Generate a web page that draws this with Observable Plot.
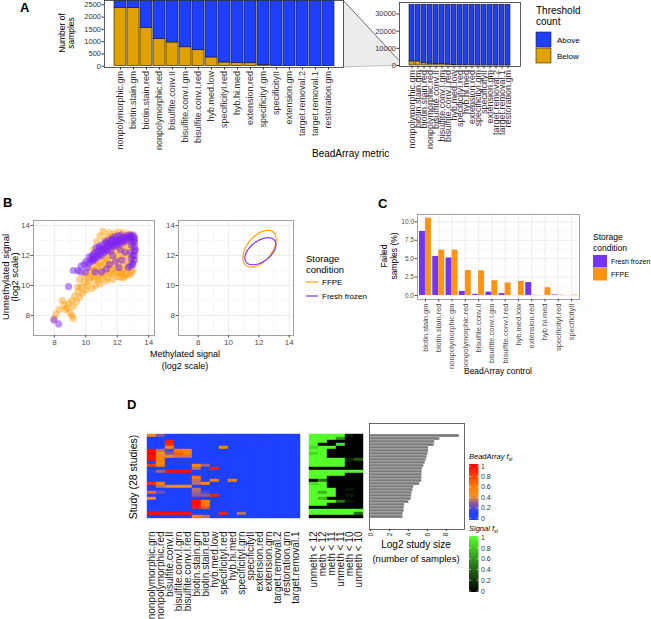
<!DOCTYPE html>
<html><head><meta charset="utf-8">
<script src="https://cdn.jsdelivr.net/npm/d3@7"></script>
<script src="https://cdn.jsdelivr.net/npm/@observablehq/plot@0.6"></script>
<style>
body{margin:0;background:#fff;}
#root{position:relative;width:651px;height:619px;overflow:hidden;background:#fff;}
.p{position:absolute;}
.p svg{overflow:visible;}
</style></head><body><div id="root"></div>
<script>
// ---------------- DATA ----------------
// Panel A
const metricsA = ["nonpolymorphic.gm","biotin.stain.gm","biotin.stain.red","nonpolymorphic.red","bisulfite.conv.II","bisulfite.conv.I.gm","bisulfite.conv.I.red","hyb.med.low","specificityI.red","hyb.hi.med","extension.red","specificityI.gm","specificityII","extension.gm","target.removal.2","target.removal.1","restoration.gm"];
const belowA = [2380,2370,1550,1100,965,770,650,355,150,130,120,45,20,4,3,2,2];
const totalSamplesA = 35400;
const statusA = ["Above","Below"];
const ticksA1 = [0,500,1000,1500,2000,2500];
const ticksA2 = [0,10000,20000,30000];

// Panel B (methylated, unmethylated) log2 signal
const ffpeB = [
 [11.5,13.5],[11.8,13.45],[12.1,13.55],[12.4,13.5],[12.7,13.45],[12.95,13.4],
 [11.4,13.2],[11.65,13.25],[11.95,13.15],[12.25,13.2],[12.55,13.25],[12.85,13.15],[13.1,13.2],
 [11.3,12.9],[11.6,12.85],[11.9,12.95],[12.2,12.9],[12.5,12.85],[12.8,12.95],[13.05,12.9],
 [11.45,12.6],[11.75,12.65],[12.05,12.55],[12.35,12.6],[12.65,12.65],[12.95,12.55],
 [11.3,12.3],[11.6,12.25],[11.9,12.35],[12.2,12.3],[12.5,12.25],[12.8,12.35],[13.1,12.3],
 [11.45,12.0],[11.75,12.05],[12.05,11.95],[12.35,12.0],[12.65,12.05],[12.95,11.95],
 [11.3,11.7],[11.6,11.65],[11.9,11.75],[12.2,11.7],[12.5,11.65],[12.8,11.75],[13.05,11.7],
 [11.5,11.4],[11.8,11.35],[12.1,11.45],[12.4,11.4],[12.7,11.35],
 [11.6,11.1],[11.95,11.15],[12.3,11.05],[12.65,11.1],
 [11.8,10.8],[12.25,10.85],[12.6,10.75],
 [11.1,12.5],[10.9,12.1],[11.2,11.8],[10.7,11.6],[11.0,11.3],[10.6,11.1],[10.8,10.8],[11.2,10.9],
 [10.4,10.7],[10.2,10.5],[10.6,10.4],[11.0,10.5],[11.4,10.5],[10.3,11.2],[10.0,10.8],
 [10.5,10.6],[10.8,10.4],[11.1,10.7],[11.5,10.8],[10.3,10.9],[10.7,11.3],[11.4,11.2],[10.5,11.0],
 [11.6,10.9],[12.0,10.9],[12.3,10.9],[11.0,11.0],[10.9,11.5],[11.2,11.5],
 [10.9,13.3],[11.1,13.6],[10.7,12.9],[11.2,13.0],[10.5,12.4],
 [12.0,10.6],[12.4,10.5],[12.8,10.7],[11.7,10.4],[13.0,11.0],[12.9,10.9],
 [9.9,10.2],[10.1,10.0],[10.4,9.8],[9.7,9.9],[9.5,9.6],[9.8,9.5],[10.0,9.7],[9.3,9.3],[9.6,9.2],
 [9.1,9.0],[8.9,8.8],[8.8,8.5],[8.6,8.7],[8.5,9.0],[9.4,8.9],[9.2,8.6],[8.3,8.4],[8.1,8.1],
 [8.0,7.8],[9.1,8.0],[9.2,7.8],[9.0,8.2],[8.7,8.4],[9.5,9.9],[10.6,10.0],[9.9,10.6],[9.6,10.4],[10.2,10.3],
 [10.9,10.1],[11.3,10.3],[12.2,10.55],[12.5,10.65]
];
const freshB = [
 [10.2,11.5],[10.2,11.9],[10.4,11.6],[10.4,12.0],[10.45,11.8],[10.6,11.8],[10.6,12.2],[10.65,12.5],
 [10.8,11.9],[10.8,12.3],[10.85,12.6],[11.0,12.0],[11.0,12.4],[11.05,12.7],[11.2,12.2],[11.2,12.5],[11.25,12.9],
 [11.4,12.3],[11.4,12.7],[11.45,13.0],[11.6,12.4],[11.6,12.8],[11.65,13.1],[11.8,12.6],[11.8,12.9],[11.85,13.25],
 [12.0,12.7],[12.0,13.0],[12.05,13.3],[12.2,12.8],[12.2,13.1],[12.25,13.35],[12.4,12.9],[12.4,13.2],
 [12.6,13.0],[12.6,13.3],[12.8,13.1],[12.8,13.35],
 [10.3,11.7],[10.5,11.7],[10.7,12.0],[10.9,12.1],[11.1,12.3],[11.3,12.4],[11.5,12.6],[11.7,12.7],
 [11.9,12.8],[12.1,12.9],[12.3,13.0],[12.5,13.1],[12.7,13.2],[12.9,13.3],[10.5,12.1],[10.9,12.5],[11.3,12.8],[11.7,13.05],
 [12.95,13.2],[13.0,12.9],[13.1,12.6],[13.1,12.3],[13.0,12.0],[13.1,11.7],[12.95,11.5],[12.85,11.3],[12.7,11.2],[13.05,13.3],[12.9,12.7],[12.85,12.2],
 [13.1,12.0],[13.15,12.4],[13.1,12.9],[13.0,11.4],[12.9,11.8],[13.1,13.1],
 [11.5,11.4],[11.9,11.6],[12.1,11.2],[11.3,11.1],[11.0,10.9],[10.6,10.9],[11.7,12.0],[12.3,11.7],[12.5,12.2],[12.2,12.4],
 [10.0,11.6],[9.9,11.4],[10.1,11.2],[9.7,11.3],[9.5,11.0],[9.2,11.0],[9.65,10.9],[9.97,10.9],
 [7.96,7.7],[8.27,7.44],[8.9,9.93]
];
// Ellipse summaries (centre and shape matrix) per storage condition
const ellipsesB = [
 {cond:"FFPE", cx:12.04, cy:12.45, sxx:1.21, syy:1.50, sxy:0.66},
 {cond:"Fresh frozen", cx:12.1, cy:12.28, sxx:1.05, syy:0.81, sxy:0.456}
];
const ticksB = [8,10,12,14];

// Panel C
const catsC = ["biotin.stain.gm","biotin.stain.red","nonpolymorphic.gm","nonpolymorphic.red","bisulfite.conv.II","bisulfite.conv.I.gm","bisulfite.conv.I.red","hyb.med.low","extension.red","hyb.hi.med","specificityI.red","specificityII"];
const freshC = [8.7,5.3,5.1,0.55,0.15,0.45,0.25,0,1.75,0,0.07,0];
const ffpeC  = [10.5,6.15,6.15,3.4,3.35,2.0,1.7,1.9,0.03,1.05,0.05,0.05];
const ticksC = [0,2.5,5,7.5,10];

// Panel D
const colsD1 = ["nonpolymorphic.grn","nonpolymorphic.red","bisulfite.conv.II","bisulfite.conv.I.grn","bisulfite.conv.I.red","biotin.stain.grn","biotin.stain.red","hyb.med.low","specificityI.red","hyb.hi.med","specificityI.grn","specificityII","extension.red","extension.grn","target.removal.2","restoration.grn","target.removal.1"];
// [study row, column index, f_st] ; all other cells are 0
const beadNonZero = [
 [0,0,0.5],[0,1,0.3],[0,5,0.08],[0,6,0.08],
 [2,2,0.9],[3,2,0.85],[4,2,0.5],[4,6,0.08],[4,8,0.5],[4,10,0.06],[4,12,0.06],
 [5,0,0.95],[5,1,0.35],[5,2,0.2],[5,3,0.55],[5,4,0.5],
 [6,0,1],[6,1,0.42],[6,2,0.28],[6,3,0.7],[6,4,0.52],
 [7,0,0.95],[7,1,0.5],[7,2,0.4],[7,3,0.36],[7,4,0.36],
 [8,0,0.95],[8,1,0.55],
 [9,0,0.15],[9,1,0.5],
 [10,0,0.8],[10,1,0.55],[10,5,0.5],[10,6,0.32],
 [11,5,0.35],[11,7,0.9],
 [12,0,0.15],[12,1,0.32],[12,2,0.95],[12,3,0.95],[12,4,0.95],
 [14,5,0.6],
 [15,5,0.35],[15,7,0.55],[15,9,0.55],
 [16,0,0.85],[16,1,0.55],[16,5,0.35],[16,6,0.5],
 [17,1,0.35],[17,2,0.4],[17,3,0.45],[17,4,0.45],
 [18,5,0.35],
 [19,0,0.65],[19,1,0.25],[19,5,0.32],[19,6,0.2],
 [20,5,0.3],[20,6,0.3],[20,7,0.9],
 [21,0,0.45],
 [22,5,0.95],[22,6,0.55],[23,5,0.95],[23,6,0.6],[24,5,0.9],[24,6,0.7],
 [25,0,0.12],[25,1,0.1],
 [26,0,0.95],[26,1,0.95],[26,2,0.95],[26,3,0.95],[26,4,0.95],[26,8,0.9],[26,10,0.35],
 [27,5,0.55],[27,6,0.35]
];
const colsD2 = ["unmeth < 12","meth < 12","meth < 11","unmeth < 11","meth < 10","unmeth < 10"];
const signalFst = [
 [1,1,1,1,0.1,0],[1,1,1,0.6,0,0],[1,1,0,0,0,0],[1,0,0,0.9,0,0],[0.85,1,1,0,0,0],
 [1,1,0,0,0,0],[0.85,1,0,0,0,0],[1,1,0,0,0,0],[1,1,1,1,0.15,0.35],[1,1,1,1,0.05,0],
 [1,1,1,1,0,0],[0,0,0,0,0,0],[1,1,1,1,1,1],[1,1,1,1,0,0],[1,1,0,0,0,0],
 [0,0.45,0,0,0,0],[0.85,1,0,0,0,0],[1,1,0,0,0,0],[1,1,1,0,0.1,0],[1,0.7,1,0,0,0],
 [1,1,1,0,0.1,0],[1,0.75,0,0,0,0],[1,1,1,0.45,0.1,0],[1,1,0,0,0,0],[0,0,0,0,0,0],
 [1,1,1,1,1,1],[1,1,1,1,1,0.45],[0,0,0,0,0,0]
];
const studySize = [9.4,7.35,6.8,6.75,6.15,6.14,6.08,6.0,5.9,5.8,5.65,5.5,5.47,5.44,5.44,5.4,5.2,4.57,4.5,4.4,4.35,4.32,4.07,3.62,3.58,3.58,3.45,3.44];
const ticksD3 = [0,2,4,6,8];
const legendTicks = [0,0.2,0.4,0.6,0.8,1];

// ---------------- STYLE ----------------
const FONT = "'Liberation Sans', Arial, Helvetica, sans-serif";
const BLUE = "#1F3FFF", GOLD = "#DFA200";
const PURPLE_B = "#7B22F5", ORANGE_B = "#FF9A00";
const PURPLE_C = "#7434F2", ORANGE_C = "#FF9411";
const GRID = "#ebebeb", AX = "#333333";
const beadColor = {domain:[0,0.15,0.3,0.42,0.6,1], range:["#1E40FF","#2A41F5","#8C5A9E","#F59020","#FF7A00","#FF0000"]};
const signalColor = {domain:[0,1], range:["#000000","#55FF2A"]};
const baseStyle = {fontFamily: FONT, background: "transparent", overflow: "visible"};

const root = document.getElementById("root");
const overlay = d3.create("svg").attr("width",651).attr("height",619)
  .style("position","absolute").style("left","0px").style("top","0px").style("font-family",FONT);
root.appendChild(overlay.node());
function place(el, left, top, w) {
  const d = document.createElement("div"); d.className = "p";
  d.style.left = left + "px"; d.style.top = top + "px"; d.style.width = w + "px";
  d.appendChild(el); root.appendChild(d); return el;
}
function T(x, y, s, o = {}) {
  const t = overlay.append("text").attr("font-size", o.size || 9).attr("font-weight", o.weight || "normal")
    .attr("fill", o.fill || "#000").attr("font-style", o.style || "normal").text(s);
  if (o.rot) t.attr("transform", `translate(${x},${y}) rotate(-90)`).attr("text-anchor","middle").attr("dominant-baseline","central");
  else t.attr("x", x).attr("y", y).attr("text-anchor", o.anchor || "start");
  return t;
}

// ---------------- PANEL A ----------------
const dataA = [];
metricsA.forEach((m, i) => {
  dataA.push({metric: m, status: "Below", count: belowA[i]});
  dataA.push({metric: m, status: "Above", count: totalSamplesA - belowA[i]});
});
function barsA(o) {
  return Plot.plot({
    width: o.width, height: 160, marginLeft: o.ml, marginRight: o.mr, marginTop: o.mt, marginBottom: 160 - o.mt - o.ph,
    style: baseStyle,
    x: {domain: metricsA, paddingInner: 0.1, paddingOuter: 0.2},
    y: {domain: o.ydom},
    color: {domain: statusA, range: [BLUE, GOLD]},
    marks: [
      Plot.barY(dataA, {x: "metric", y: "count", fill: "status", order: ["Below","Above"], stroke: "#1a1a1a", strokeWidth: 0.6, clip: true}),
      Plot.frame({stroke: AX, strokeWidth: 0.8}),
      Plot.axisX({tickRotate: -90, tickSize: 2.5, tickPadding: 1, fontSize: 9, color: AX, label: null}),
      Plot.axisY(o.ticks, {tickSize: 2.5, tickPadding: 1, fontSize: 7.5, color: AX, label: null, tickFormat: d => String(d)})
    ]
  });
}
const plotA1 = place(barsA({width: 345, ml: 104, mr: 2, mt: 0, ph: 67, ydom: [-53, 2675], ticks: ticksA1}), 0, 0, 345);
const plotA2 = place(barsA({width: 153, ml: 30, mr: 2, mt: 2, ph: 64, ydom: [-580, 36700], ticks: ticksA2}), 369, 0, 153);

// zoom wedge from left panel to the matching range of the right panel
{
  const yR = plotA2.scale("y");
  const yTop = yR.apply(2675), yBot = yR.apply(-53);
  overlay.append("path").attr("d", `M343,0 L399,${yTop} L399,${yBot} L343,67 Z`).attr("fill", "#ececec");
  overlay.append("line").attr("x1",343).attr("y1",0).attr("x2",399).attr("y2",yTop).attr("stroke","#333").attr("stroke-width",0.7);
  overlay.append("line").attr("x1",343).attr("y1",67).attr("x2",399).attr("y2",yBot).attr("stroke","#999").attr("stroke-width",0.6);
}
T(20, 12, "A", {size: 13, weight: "bold"});
T(62, 33, "Number of", {size: 8.5, rot: true});
T(71, 33, "samples", {size: 8.5, rot: true});
T(312, 157, "BeadArray metric", {size: 10});
T(536, 14, "Threshold", {size: 10});
T(536, 25, "count", {size: 10});
statusA.forEach((s, i) => {
  overlay.append("rect").attr("x", 536).attr("y", 32 + i * 16).attr("width", 15).attr("height", 15)
    .attr("fill", i === 0 ? BLUE : GOLD).attr("stroke", "#222").attr("stroke-width", 0.6);
  T(557, 43 + i * 16, s, {size: 8});
});

// ---------------- PANEL B ----------------
function ellipsePts(e) {
  const l11 = Math.sqrt(e.sxx), l21 = e.sxy / l11, l22 = Math.sqrt(e.syy - l21 * l21);
  return d3.range(0, 361, 4).map(a => { const t = a * Math.PI / 180;
    return {cond: e.cond, x: e.cx + l11 * Math.cos(t), y: e.cy + l21 * Math.cos(t) + l22 * Math.sin(t)}; });
}
function panelB(o) {
  const marks = [
    Plot.gridX([7,9,11,13], {stroke: "#f3f3f3", strokeOpacity: 1, strokeWidth: 0.6}),
    Plot.gridY([7,9,11,13], {stroke: "#f3f3f3", strokeOpacity: 1, strokeWidth: 0.6}),
    Plot.gridX(ticksB, {stroke: GRID, strokeOpacity: 1, strokeWidth: 0.9}),
    Plot.gridY(ticksB, {stroke: GRID, strokeOpacity: 1, strokeWidth: 0.9})
  ];
  if (o.scatter) {
    marks.push(Plot.dot(ffpeB, {x: d => d[0], y: d => d[1], r: 3.6, fill: ORANGE_B, fillOpacity: 0.45, stroke: null}));
    marks.push(Plot.dot(freshB, {x: d => d[0], y: d => d[1], r: 3.6, fill: PURPLE_B, fillOpacity: 0.5, stroke: null}));
  } else {
    ellipsesB.forEach(e => marks.push(Plot.line(ellipsePts(e), {x: "x", y: "y", stroke: e.cond === "FFPE" ? ORANGE_B : PURPLE_B, strokeWidth: 1.1})));
  }
  marks.push(Plot.frame({stroke: "#8a8a8a", strokeWidth: 0.8}));
  marks.push(Plot.axisX(ticksB, {tickSize: 2.5, tickPadding: 1.5, fontSize: 8, color: "#4d4d4d", label: null}));
  marks.push(Plot.axisY(ticksB, {tickSize: 2.5, tickPadding: 1, fontSize: 8, color: "#4d4d4d", label: null}));
  return Plot.plot({
    width: o.width, height: 140, marginLeft: o.ml, marginRight: 6, marginTop: 10, marginBottom: 15,
    style: baseStyle, x: {domain: o.xdom}, y: {domain: [6.67, 14.33]}, marks
  });
}
place(panelB({width: 160, ml: 33, xdom: [6.67, 14.37], scatter: true}), 0, 210, 160);
place(panelB({width: 146, ml: 25, xdom: [6.70, 14.28], scatter: false}), 153, 210, 146);
T(3, 207, "B", {size: 13, weight: "bold"});
T(5, 277, "Unmethylated signal", {size: 9.5, rot: true});
T(14, 277, "(log2 scale)", {size: 9.5, rot: true});
T(185, 357, "Methylated signal", {size: 9, anchor: "middle"});
T(185, 369, "(log2 scale)", {size: 9, anchor: "middle"});
T(306, 262, "Storage", {size: 9.5});
T(306, 273, "condition", {size: 9.5});
[["FFPE", ORANGE_B], ["Fresh frozen", PURPLE_B]].forEach(([s, c], i) => {
  overlay.append("line").attr("x1", 306).attr("x2", 318).attr("y1", 282 + i * 14).attr("y2", 282 + i * 14).attr("stroke", c).attr("stroke-width", 1.1);
  T(322, 285 + i * 14, s, {size: 8});
});

// ---------------- PANEL C ----------------
const rowsC = [];
catsC.forEach((c, i) => {
  rowsC.push({i, cond: "Fresh frozen", v: freshC[i]});
  rowsC.push({i, cond: "FFPE", v: ffpeC[i]});
});
place(Plot.plot({
  width: 202, height: 154, marginLeft: 37, marginRight: 3, marginTop: 9, marginBottom: 60,
  style: baseStyle,
  x: {domain: [-0.6, catsC.length - 0.4]}, y: {domain: [-0.55, 11]},
  color: {domain: ["Fresh frozen","FFPE"], range: [PURPLE_C, ORANGE_C]},
  marks: [
    Plot.gridY([1.25,3.75,6.25,8.75], {stroke: "#f3f3f3", strokeOpacity: 1, strokeWidth: 0.6}),
    Plot.gridY(ticksC, {stroke: GRID, strokeOpacity: 1, strokeWidth: 0.9}),
    Plot.gridX(d3.range(catsC.length), {stroke: GRID, strokeOpacity: 1, strokeWidth: 0.9}),
    Plot.rect(rowsC, {x1: d => d.i + (d.cond === "FFPE" ? 0 : -0.45), x2: d => d.i + (d.cond === "FFPE" ? 0.45 : 0), y1: 0, y2: "v", fill: "cond"}),
    Plot.frame({stroke: "#8a8a8a", strokeWidth: 0.8}),
    Plot.axisX(d3.range(catsC.length), {tickFormat: i => catsC[i], tickRotate: -90, tickSize: 2.5, tickPadding: 1.5, fontSize: 7.5, color: "#4d4d4d", label: null}),
    Plot.axisY(ticksC, {tickFormat: d3.format(".1f"), tickSize: 2.5, tickPadding: 1, fontSize: 6.5, color: "#4d4d4d", label: null})
  ]
}), 380, 205, 202);
T(378, 208, "C", {size: 13, weight: "bold"});
T(384, 256, "Failed", {size: 8.5, rot: true});
T(393.5, 256, "samples (%)", {size: 8.5, rot: true});
T(498, 374, "BeadArray control", {size: 8.5, anchor: "middle"});
T(593, 240, "Storage", {size: 8.5});
T(593, 251, "condition", {size: 8.5});
[["Fresh frozen", PURPLE_C], ["FFPE", ORANGE_C]].forEach(([s, c], i) => {
  overlay.append("rect").attr("x", 593).attr("y", 255 + i * 13).attr("width", 14).attr("height", 12.5).attr("fill", c);
  T(611, 264 + i * 13, s, {size: 7});
});

// ---------------- PANEL D ----------------
const beadGrid = d3.range(28).map(() => colsD1.map(() => 0));
beadNonZero.forEach(([r, c, v]) => { beadGrid[r][c] = v; });
const cellsD1 = [];
beadGrid.forEach((row, r) => row.forEach((v, c) => cellsD1.push({row: r, col: colsD1[c], v})));
const cellsD2 = [];
signalFst.forEach((row, r) => row.forEach((v, c) => cellsD2.push({row: r, col: colsD2[c], v})));

function heat(cells, cols, colorOpt, width, ml) {
  return Plot.plot({
    width, height: 201, marginLeft: ml, marginRight: 2, marginTop: 5, marginBottom: 90,
    style: baseStyle,
    x: {domain: cols, padding: 0}, y: {domain: d3.range(28), padding: 0, axis: null},
    color: {type: "linear", domain: colorOpt.domain, range: colorOpt.range, interpolate: "rgb"},
    marks: [
      Plot.cell(cells, {x: "col", y: "row", fill: "v", stroke: "v", strokeWidth: 0.4, inset: 0}),
      Plot.axisX({tickRotate: -90, tickSize: 0, tickPadding: 2, fontSize: 10, color: "#1a1a1a", label: null})
    ]
  });
}
place(heat(cellsD1, colsD1, beadColor, 166, 3), 140, 418, 166);
place(heat(cellsD2, colsD2, signalColor, 62, 2), 305, 418, 62);
place(Plot.plot({
  width: 100, height: 130, marginLeft: 2, marginRight: 3, marginTop: 5, marginBottom: 19,
  style: baseStyle,
  x: {domain: [-0.1, 9.93]}, y: {domain: d3.range(28), padding: 0.12, axis: null},
  marks: [
    Plot.barX(studySize, {x: d => d, y: (d, i) => i, fill: "#7a7a7a", stroke: "#ffffff", strokeWidth: 0.3}),
    Plot.frame({stroke: "#444", strokeWidth: 0.8}),
    Plot.axisX(ticksD3, {tickRotate: -90, tickSize: 2, tickPadding: 1, fontSize: 7, color: "#333", label: null})
  ]
}), 367, 418, 100);
T(127, 409, "D", {size: 13, weight: "bold"});
T(132.5, 477, "Study (28 studies)", {size: 10.5, rot: true});
T(416, 548, "Log2 study size", {size: 10, anchor: "middle"});
T(416, 562, "(number of samples)", {size: 9.5, anchor: "middle"});

// colour bar legends
const defs = overlay.append("defs");
function colorbar(id, opt, x, yTop, yBot, v0y, v1y, titleY, title) {
  const sc = d3.scaleLinear().domain(opt.domain).range(opt.range).interpolate(d3.interpolateRgb);
  const g = defs.append("linearGradient").attr("id", id).attr("x1", 0).attr("y1", 1).attr("x2", 0).attr("y2", 0);
  d3.range(0, 1.0001, 0.05).forEach(t => g.append("stop").attr("offset", t).attr("stop-color", sc(t)));
  overlay.append("rect").attr("x", x).attr("y", yTop).attr("width", 9.5).attr("height", yBot - yTop).attr("fill", `url(#${id})`);
  legendTicks.forEach(v => {
    const y = v0y + (v1y - v0y) * v;
    overlay.append("line").attr("x1", x).attr("x2", x + 2).attr("y1", y).attr("y2", y).attr("stroke", "#fff").attr("stroke-width", 0.6);
    overlay.append("line").attr("x1", x + 7.5).attr("x2", x + 9.5).attr("y1", y).attr("y2", y).attr("stroke", "#fff").attr("stroke-width", 0.6);
    overlay.append("text").attr("x", x + 12).attr("y", y).attr("dominant-baseline", "central").attr("font-size", 7).attr("fill", "#333").text(String(v));
  });
  const t = overlay.append("text").attr("x", x).attr("y", titleY).attr("font-size", 7.5).attr("font-style", "italic");
  t.append("tspan").text(title + " f");
  t.append("tspan").attr("font-size", 5).attr("dy", 1.5).text("st");
}
colorbar("gBead", beadColor, 469, 464, 520, 518.3, 466, 459, "BeadArray");
colorbar("gSig", signalColor, 469, 536, 592, 591, 537.3, 531, "Signal");
</script></body></html>
